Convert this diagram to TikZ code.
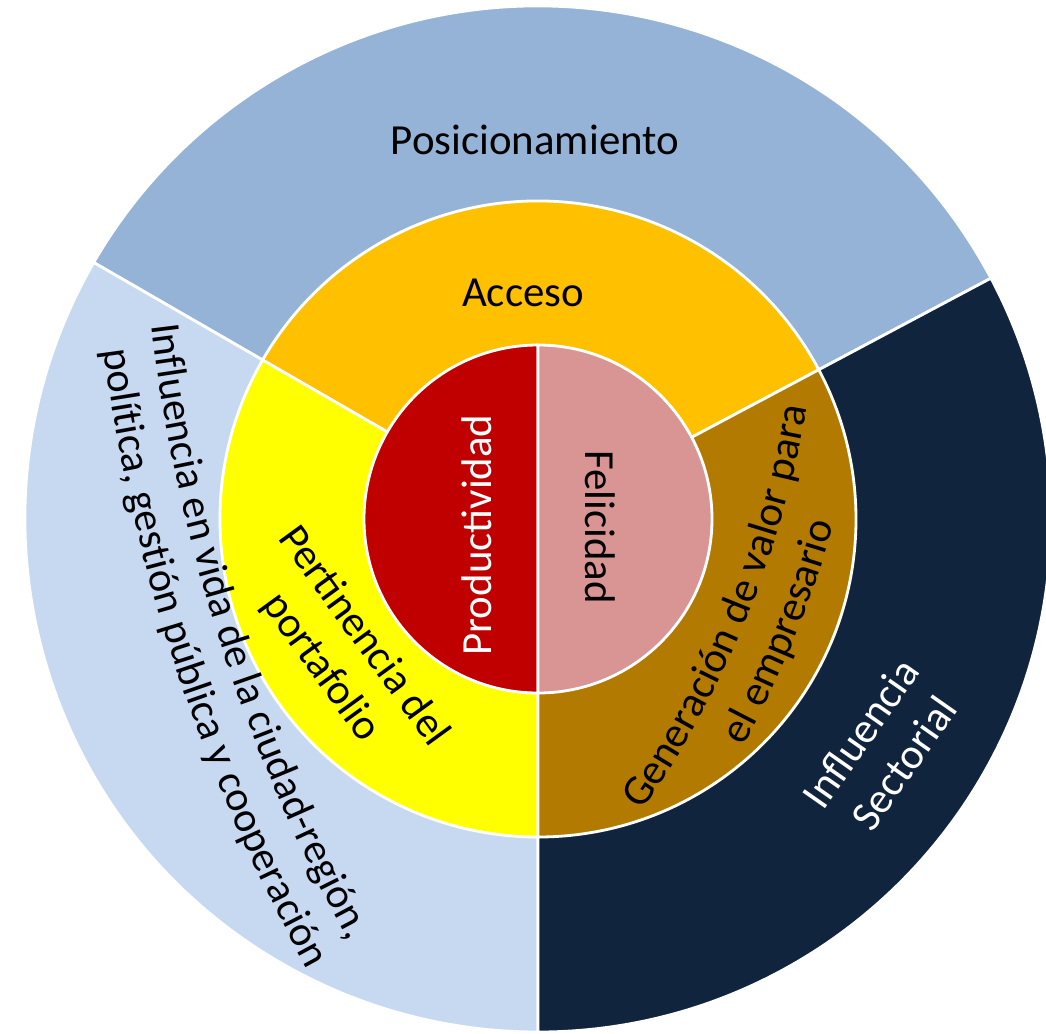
\documentclass[tikz,border=0pt]{standalone}
\usepackage{fontspec}
\setmainfont{Carlito}
\usetikzlibrary{decorations.text}

\definecolor{posic}{HTML}{95B3D7}
\definecolor{vida}{HTML}{C6D9F1}
\definecolor{sector}{HTML}{10243E}
\definecolor{acceso}{HTML}{FFC000}
\definecolor{pertin}{HTML}{FFFF00}
\definecolor{valor}{HTML}{B37A00}
\definecolor{produc}{HTML}{C00000}
\definecolor{felic}{HTML}{D99594}

\newcommand\vidafont{\fontsize{12}{14}\selectfont}
\newcommand\valorfont{\fontsize{12.2}{15}\selectfont}

\begin{document}
\begin{tikzpicture}[
		sep/.style={draw=white, line width=0.8pt},
		lbl/.style={font=\fontsize{12.2}{15}\selectfont, align=center, inner sep=0pt},
		curved/.style={decorate, decoration={text along path, text align=center, text={#1}}}
	]
	\useasboundingbox (-5.38,-5.14) rectangle (5.08,5.19);

	% outer ring
	\filldraw[sep, fill=posic] (0,0) -- (28:5.13) arc (28:150:5.13) -- cycle;
	\filldraw[sep, fill=vida] (0,0) -- (150:5.13) arc (150:270:5.13) -- cycle;
	\filldraw[sep, fill=sector] (0,0) -- (270:5.13) arc (270:388:5.13) -- cycle;

	% middle ring
	\filldraw[sep, fill=acceso] (0,0) -- (28:3.18) arc (28:150:3.18) -- cycle;
	\filldraw[sep, fill=pertin] (0,0) -- (150:3.18) arc (150:270:3.18) -- cycle;
	\filldraw[sep, fill=valor] (0,0) -- (270:3.18) arc (270:388:3.18) -- cycle;

	% core
	\filldraw[sep, fill=produc] (90:1.74) arc (90:270:1.74) -- cycle;
	\filldraw[sep, fill=felic] (-90:1.74) arc (-90:90:1.74) -- cycle;

	\node[lbl] (posic) at (-0.03, 3.79) {Posicionamiento};
	\node[lbl, rotate=55, text=white] (sector) at (3.44, -2.29) {Influencia\\Sectorial};

	% bent labels
	\path[curved={|\vidafont|Influencia en vida de la ciudad-región,}]
		(13.01,3.96) ++(186.3:17) arc[start angle=186.3, end angle=209.3, radius=17];
	\path[curved={|\vidafont|política, gestión pública y cooperación}]
		(13.01,3.96) ++(186.7:17.5) arc[start angle=186.7, end angle=209.7, radius=17.5];
	\path[curved={|\valorfont|Generación de valor para}]
		(-7.15,2.78) ++(-40:9.98) arc[start angle=-40, end angle=-4.4, radius=9.98];
	\path[curved={|\valorfont|el empresario}]
		(-7.15,2.78) ++(-40:10.5) arc[start angle=-40, end angle=-4.4, radius=10.5];

	\node[lbl] (acceso) at (-0.15, 2.26) {Acceso};
	\node[lbl, rotate=-54] (pertin) at (-1.96, -1.33) {Pertinencia del\\portafolio};

	\node[lbl, rotate=90, text=white] (produc) at (-0.61, -0.16) {Productividad};
	\node[lbl, rotate=-90] (felic) at (0.62, -0.08) {Felicidad};
\end{tikzpicture}
\end{document}
